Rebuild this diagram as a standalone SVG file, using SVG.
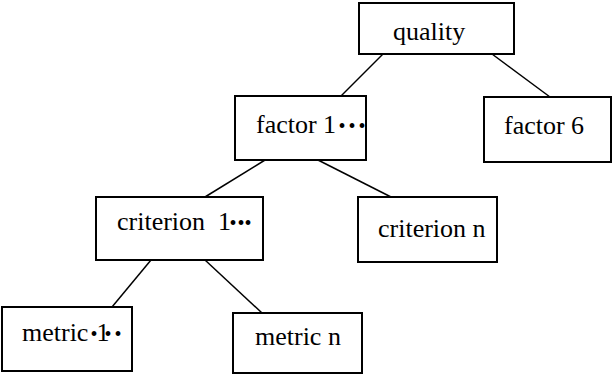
<svg xmlns="http://www.w3.org/2000/svg" width="613" height="376" viewBox="0 0 613 376">
<style>
.box{fill:#fff;stroke:#000;stroke-width:2}
.ln{stroke:#000;stroke-width:1.5;fill:none}
.t{font-family:"Liberation Serif","Times New Roman",serif;font-size:26px;fill:#000}
.b{font-size:20px}
</style>
<rect width="613" height="376" fill="#fff"/>
<g id="connectors">
<line class="ln" x1="383" y1="54" x2="341" y2="96"/>
<line class="ln" x1="492" y1="54" x2="550" y2="97"/>
<line class="ln" x1="265" y1="160" x2="205" y2="197"/>
<line class="ln" x1="318" y1="160" x2="393" y2="198"/>
<line class="ln" x1="151" y1="260" x2="112" y2="307"/>
<line class="ln" x1="205" y1="260" x2="262" y2="313"/>
</g>
<g id="quality">
<rect class="box" x="359" y="3" width="155" height="51"/>
<text class="t" x="393" y="40">quality</text>
</g>
<g id="factor1">
<rect class="box" x="235" y="96" width="131" height="64"/>
<text class="t" x="256" y="133">factor 1<tspan class="b" x="338.5">•</tspan><tspan class="b" x="348.5">•</tspan><tspan class="b" x="358.5">•</tspan></text>
</g>
<g id="factor6">
<rect class="box" x="484" y="97" width="127" height="65"/>
<text class="t" x="504" y="134">factor 6</text>
</g>
<g id="criterion1">
<rect class="box" x="96" y="197" width="167" height="63"/>
<text class="t" x="117" y="230">criterion <tspan x="218">1</tspan><tspan class="b" x="229.5">•</tspan><tspan class="b" x="237.5">•</tspan><tspan class="b" x="244.5">•</tspan></text>
</g>
<g id="criterionN">
<rect class="box" x="358" y="197" width="139" height="65"/>
<text class="t" x="378" y="237">criterion n</text>
</g>
<g id="metric1">
<rect class="box" x="2" y="307" width="130" height="64"/>
<text class="t" x="22" y="341">metric<tspan class="b" x="90.5">•</tspan><tspan x="96.5">1</tspan><tspan class="b" x="104.5">•</tspan><tspan class="b" x="114.5">•</tspan></text>
</g>
<g id="metricN">
<rect class="box" x="233" y="313" width="129" height="60"/>
<text class="t" x="255" y="345">metric n</text>
</g>
</svg>
